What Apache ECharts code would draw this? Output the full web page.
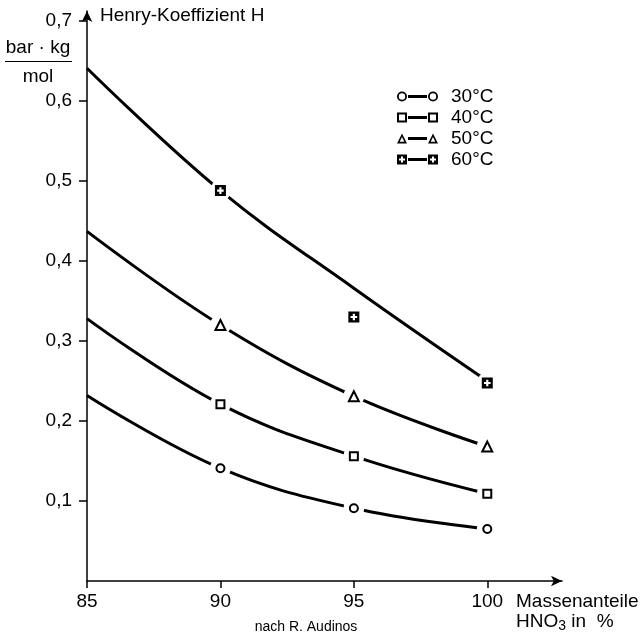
<!DOCTYPE html>
<html>
<head>
<meta charset="utf-8">
<script src="https://cdn.jsdelivr.net/npm/echarts@6/dist/echarts.min.js"></script>
<style>
html,body{margin:0;padding:0;background:#fff;}
#c{width:643px;height:638px;}
</style>
</head>
<body>
<div id="c"></div>
<script>
// ---- data ----
const xValues = [85, 90, 95, 100];
const xTickLabels = [85, 90, 95, 100];
const yTickLabels = [0.1, 0.2, 0.3, 0.4, 0.5, 0.6, 0.7];
const seriesNames = ['30°C', '40°C', '50°C', '60°C'];
// fitted curves (values at xValues)
const curve30 = [0.232, 0.141, 0.091, 0.065];
const curve40 = [0.328, 0.221, 0.156, 0.109];
const curve50 = [0.437, 0.320, 0.231, 0.168];
const curve60 = [0.641, 0.488, 0.366, 0.250];
// measured points
const pointX = [90, 95, 100];
const meas30 = [0.141, 0.091, 0.065];
const meas40 = [0.221, 0.156, 0.109];
const meas50 = [0.320, 0.231, 0.168];
const meas60 = [0.488, 0.330, 0.2475];

const FONT = "'Liberation Sans', Arial, Helvetica, sans-serif";
const BLACK = '#000';

const curves = [curve30, curve40, curve50, curve60];
const meas = [meas30, meas40, meas50, meas60];

const plusSquare = 'path://M0,0H10V10H0Z M4,2V4H2V6H4V8H6V6H8V4H6V2Z';
const markerSymbols = ['circle', 'rect', 'triangle', plusSquare];
const markerSizes = [8, 8, 10, 11];

const legendIcons = [
  'path://M0,5A5,5 0 1,1 10,5A5,5 0 1,1 0,5Z M1.8,5A3.2,3.2 0 1,0 8.2,5A3.2,3.2 0 1,0 1.8,5Z M11,3.5H30V6.5H11Z M31,5A5,5 0 1,1 41,5A5,5 0 1,1 31,5Z M32.8,5A3.2,3.2 0 1,0 39.2,5A3.2,3.2 0 1,0 32.8,5Z',
  'path://M0,0H10V10H0Z M2,2V8H8V2Z M11,3.5H30V6.5H11Z M31,0H41V10H31Z M33,2V8H39V2Z',
  'path://M5,0L10,10L0,10Z M5,3.6L2.7,8.3L7.3,8.3Z M11,3.5H30V6.5H11Z M36,0L41,10L31,10Z M36,3.6L33.7,8.3L38.3,8.3Z',
  'path://M0,0H10V10H0Z M4,2V4H2V6H4V8H6V6H8V4H6V2Z M11,3.5H30V6.5H11Z M31,0H41V10H31Z M35,2V4H33V6H35V8H37V6H39V4H37V2Z'
];

const series = [];
curves.forEach(function (c, i) {
  series.push({
    name: seriesNames[i],
    type: 'line',
    smooth: 0.4,
    symbol: 'none',
    color: BLACK,
    lineStyle: { color: BLACK, width: 3 },
    z: 2,
    data: xValues.map(function (x, k) { return [x, c[k]]; })
  });
});
// white masks to open gaps in the curves around the markers
meas.forEach(function (m, i) {
  series.push({
    name: 'mask' + i,
    type: 'scatter',
    symbol: 'circle',
    symbolSize: 21,
    itemStyle: { color: '#ffffff', opacity: 1 },
    z: 3,
    data: pointX.map(function (x, k) { return [x, m[k]]; })
  });
});
meas.forEach(function (m, i) {
  const isPlus = i === 3;
  series.push({
    name: 'marker' + i,
    type: 'scatter',
    symbol: markerSymbols[i],
    symbolSize: markerSizes[i],
    itemStyle: isPlus ? { color: BLACK, opacity: 1 } : { color: '#ffffff', borderColor: BLACK, borderWidth: 2, opacity: 1 },
    z: 5,
    data: pointX.map(function (x, k) { return [x, m[k]]; })
  });
});

const chart = echarts.init(document.getElementById('c'), null, { renderer: 'canvas' });
chart.setOption({
  animation: false,
  backgroundColor: '#fff',
  textStyle: { fontFamily: FONT },
  grid: { left: 87, right: 81, top: 11, bottom: 57, containLabel: false },
  legend: {
    left: 397,
    top: 86,
    padding: 0,
    orient: 'vertical',
    selectedMode: false,
    itemWidth: 41,
    itemHeight: 10,
    itemGap: 0,
    symbolKeepAspect: false,
    textStyle: { fontFamily: FONT, fontSize: 19, color: BLACK, lineHeight: 21, padding: [0, 0, 0, 8] },
    data: seriesNames.map(function (n, i) { return { name: n, icon: legendIcons[i] }; })
  },
  xAxis: {
    type: 'value',
    min: 85,
    max: 102.8,
    interval: 5,
    splitLine: { show: false },
    axisLine: { show: true, lineStyle: { color: BLACK, width: 1.5 }, symbol: ['none', 'arrow'], symbolSize: [8, 11] },
    axisTick: { show: true, length: 7, lineStyle: { color: BLACK, width: 1.5 }, customValues: xTickLabels },
    axisLabel: { customValues: xTickLabels, fontFamily: FONT, fontSize: 19, color: BLACK, margin: 11 }
  },
  yAxis: {
    type: 'value',
    min: 0,
    max: 0.7125,
    interval: 0.1,
    splitLine: { show: false },
    axisLine: { show: true, lineStyle: { color: BLACK, width: 1.5 }, symbol: ['none', 'arrow'], symbolSize: [8, 11] },
    axisTick: { show: true, length: 8, lineStyle: { color: BLACK, width: 1.5 }, customValues: yTickLabels },
    axisLabel: {
      customValues: yTickLabels, fontFamily: FONT, fontSize: 19, color: BLACK, margin: 15,
      formatter: function (v) { return v.toFixed(1).replace('.', ','); }
    }
  },
  graphic: [
    { type: 'text', x: 100, y: 16, style: { text: 'Henry-Koeffizient H', font: '19px ' + FONT, fill: BLACK, verticalAlign: 'middle' } },
    { type: 'text', x: 38, y: 48, style: { text: 'bar · kg', font: '19px ' + FONT, fill: BLACK, align: 'center', verticalAlign: 'middle' } },
    { type: 'line', shape: { x1: 5, y1: 61.5, x2: 72, y2: 61.5 }, style: { stroke: BLACK, lineWidth: 1.2 } },
    { type: 'text', x: 38, y: 77, style: { text: 'mol', font: '19px ' + FONT, fill: BLACK, align: 'center', verticalAlign: 'middle' } },
    { type: 'text', x: 516, y: 602, style: { text: 'Massenanteile', font: '19px ' + FONT, fill: BLACK, verticalAlign: 'middle' } },
    { type: 'text', x: 516, y: 622, style: {
        text: '{a|HNO}{s|3}{a| in  %}', verticalAlign: 'middle', fill: BLACK,
        rich: { a: { fontFamily: FONT, fontSize: 19, fill: BLACK }, s: { fontFamily: FONT, fontSize: 14, fill: BLACK, padding: [8, 0, 0, 0] } }
      } },
    { type: 'text', x: 306, y: 627, style: { text: 'nach R. Audinos', font: '14px ' + FONT, fill: BLACK, align: 'center', verticalAlign: 'middle' } }
  ],
  series: series
});
</script>
</body>
</html>
